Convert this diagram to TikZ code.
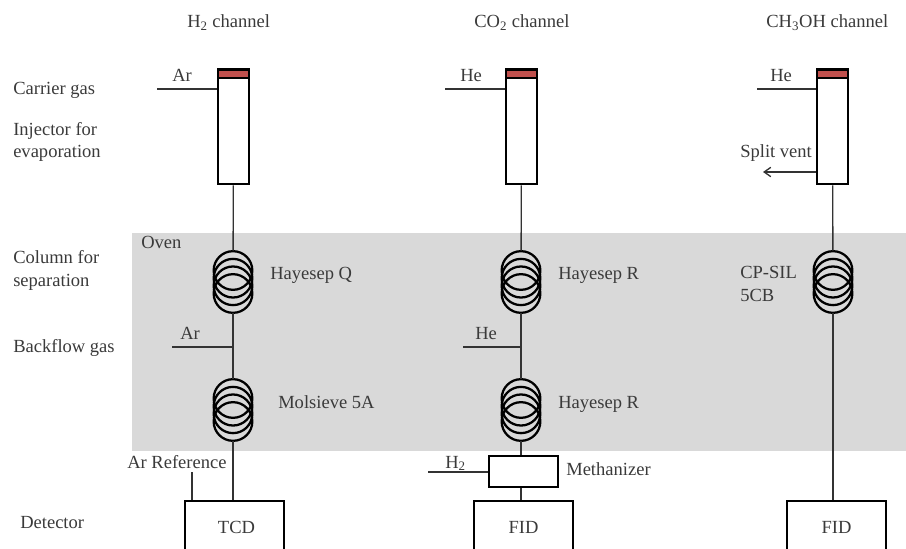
\documentclass[tikz,border=0pt]{standalone}
\usepackage{fontspec}
\setmainfont{Liberation Serif}
\usetikzlibrary{arrows.meta}

\definecolor{ovengrey}{HTML}{D9D9D9}
\definecolor{labelgrey}{HTML}{3A3A3A}
\definecolor{septumred}{HTML}{C0504D}

\tikzset{
    txt/.style={text=labelgrey, font=\fontsize{13.9}{16}\selectfont, inner sep=0pt, anchor=base west},
    line/.style={draw=black!80, line width=1pt},
    injector/.style={draw, line width=1.9pt, fill=white, inner sep=0pt, minimum width=23.25pt, minimum height=86.25pt},
    septum/.style={draw, line width=1.6pt, fill=septumred, inner sep=0pt, minimum width=23.25pt, minimum height=6.5pt},
    coilbox/.style={inner sep=0pt, minimum width=30pt, minimum height=46.5pt},
    coilring/.style={draw, circle, line width=1.7pt, inner sep=0pt, minimum size=29pt},
    unitbox/.style={draw, line width=1.9pt, fill=white, text=labelgrey, font=\fontsize{13.9}{16}\selectfont, inner sep=0pt},
    detector/.style={unitbox, minimum width=74.25pt, minimum height=39pt}
}

% four overlapping rings
\newcommand{\coilat}[3]{
    \foreach \dy in {-11.5,-3.8,3.8,11.5}
        \node[coilring] at (#2,#3+\dy) {};
    \node[coilbox] (#1) at (#2,#3) {};
}

\begin{document}
\begin{tikzpicture}[x=0.75pt, y=-0.75pt]
    \useasboundingbox (0,0) rectangle (906,549);
    \clip (0,0) rectangle (906,549);

    \fill[ovengrey] (132,233) rectangle (906,451);

    % column titles
    \node[txt] (titlea) at (187,28) {H\textsubscript{2} channel};
    \node[txt] (titleb) at (474,28) {CO\textsubscript{2} channel};
    \node[txt] (titlec) at (766,28) {CH\textsubscript{3}OH channel};

    % left labels
    \node[txt] (carrier) at (13,95) {Carrier gas};
    \node[txt] (evapa) at (13,136) {Injector for};
    \node[txt] (evapb) at (13,157) {evaporation};
    \node[txt] (sepa) at (13,263) {Column for};
    \node[txt] (sepb) at (13,286) {separation};
    \node[txt] (backflow) at (13,352) {Backflow gas};
    \node[txt] (detect) at (20,528) {Detector};
    \node[txt] (oven) at (141,248) {Oven};

    % injectors
    \node[injector] (inja) at (233.5,126.5) {};
    \node[injector] (injb) at (521.5,126.5) {};
    \node[injector] (injc) at (832.5,126.5) {};
    \node[septum] (septa) at (233.5,74) {};
    \node[septum] (septb) at (521.5,74) {};
    \node[septum] (septc) at (832.5,74) {};

    % columns
    \coilat{qcol}{233}{282}
    \coilat{molcol}{233}{410}
    \coilat{rcola}{521}{282}
    \coilat{rcolb}{521}{410}
    \coilat{silcol}{833}{282}

    % methanizer and detectors
    \node[unitbox, minimum width=51.75pt, minimum height=23.25pt] (meth) at (523.5,471.5) {};
    \node[detector] (tcd) at (234.5,527) {\hspace{3pt}TCD};
    \node[detector] (fida) at (523.5,527) {FID\hspace{4pt}};
    \node[detector] (fidb) at (836.5,527) {FID};

    % free ends
    \coordinate (ara) at (157,89);
    \coordinate (hea) at (445,89);
    \coordinate (heb) at (757,89);
    \coordinate (vent) at (763,172);
    \coordinate (arb) at (172,347);
    \coordinate (heback) at (463,347);
    \coordinate (hyd) at (428,472);
    \coordinate (arref) at (192,472);
    \coordinate (joina) at (233,347);
    \coordinate (joinb) at (521,347);

    \draw[line] (inja) -- (qcol);
    \draw[line] (qcol) -- (molcol);
    \draw[line] (molcol) -- (molcol |- tcd.north);
    \draw[line] (injb) -- (rcola);
    \draw[line] (rcola) -- (rcolb);
    \draw[line] (rcolb) -- (rcolb |- meth.north);
    \draw[line] (meth.south -| rcolb) -- (rcolb |- fida.north);
    \draw[line] (injc) -- (silcol);
    \draw[line] (silcol) -- (silcol |- fidb.north);

    \draw[line] (ara) -- (ara -| inja.west);
    \draw[line] (hea) -- (hea -| injb.west);
    \draw[line] (heb) -- (heb -| injc.west);
    \draw[line, -{Straight Barb[length=5pt, width=7pt]}] (vent -| injc.west) -- (vent);
    \draw[line] (arb) -- (joina);
    \draw[line] (heback) -- (joinb);
    \draw[line] (hyd) -- (hyd -| meth.west);
    \draw[line] (arref) -- (arref |- tcd.north);

    % gas and column labels
    \node[txt] (lara) at (172,82) {Ar};
    \node[txt] (lhea) at (460,82) {He};
    \node[txt] (lheb) at (770,82) {He};
    \node[txt] (larb) at (180,339) {Ar};
    \node[txt] (lhec) at (475,339) {He};
    \node[txt] (lhyd) at (445,468) {H\textsubscript{2}};
    \node[txt] (lref) at (127,468) {Ar Reference};
    \node[txt] (lvent) at (740,158) {Split vent};
    \node[txt] (lq) at (270,279) {Hayesep Q};
    \node[txt] (lmol) at (278,408) {Molsieve 5A};
    \node[txt] (lra) at (558,279) {Hayesep R};
    \node[txt] (lrb) at (558,408) {Hayesep R};
    \node[txt] (lsila) at (740,278) {CP-SIL};
    \node[txt] (lsilb) at (740,301) {5CB};
    \node[txt] (lmeth) at (566,475) {Methanizer};
\end{tikzpicture}
\end{document}
